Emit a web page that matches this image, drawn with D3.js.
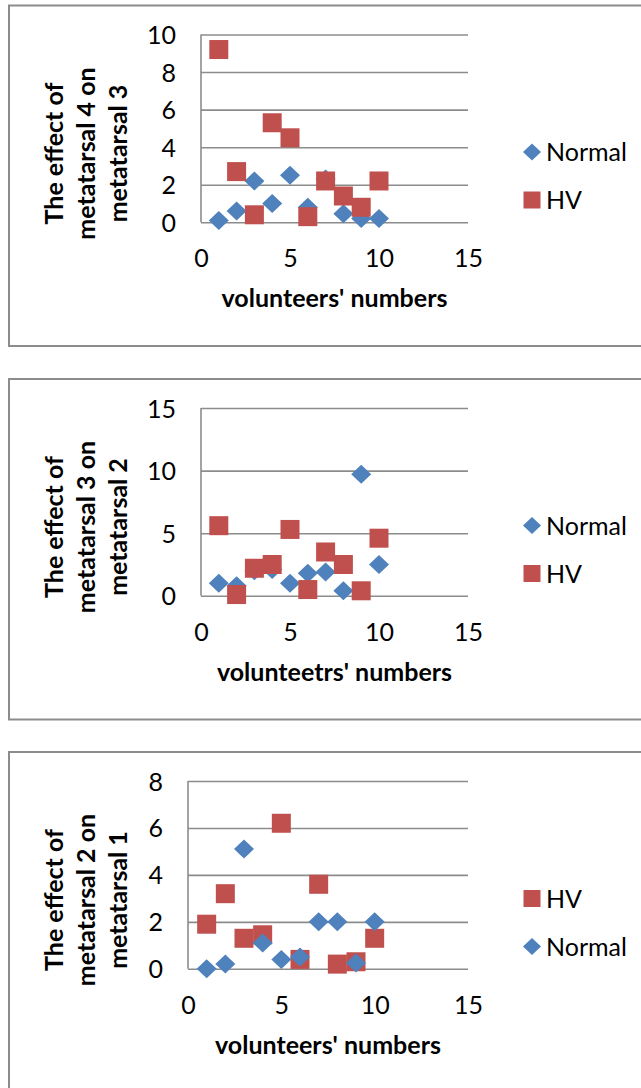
<!DOCTYPE html>
<html>
<head>
<meta charset="utf-8">
<script src="https://cdn.jsdelivr.net/npm/d3@7"></script>
<style>
  html, body { margin: 0; padding: 0; background: #fff; }
  svg { display: block; }
</style>
</head>
<body>
<script>
// Volunteer numbers shared by all three panels
const volunteers = [1, 2, 3, 4, 5, 6, 7, 8, 9, 10];
const xTicks = [0, 5, 10, 15];

// Panel 1: effect of metatarsal 4 on metatarsal 3
const m4m3Normal = [0.1, 0.6, 2.2, 1.0, 2.5, 0.8, 2.3, 0.45, 0.2, 0.2];
const m4m3HV     = [9.2, 2.7, 0.4, 5.3, 4.5, 0.3, 2.2, 1.4, 0.8, 2.2];
const m4m3Ticks  = [0, 2, 4, 6, 8, 10];

// Panel 2: effect of metatarsal 3 on metatarsal 2
const m3m2Normal = [1.0, 0.8, 2.0, 2.1, 1.0, 1.8, 1.9, 0.4, 9.7, 2.5];
const m3m2HV     = [5.6, 0.1, 2.2, 2.5, 5.3, 0.5, 3.5, 2.5, 0.4, 4.6];
const m3m2Ticks  = [0, 5, 10, 15];

// Panel 3: effect of metatarsal 2 on metatarsal 1
const m2m1HV     = [1.9, 3.2, 1.3, 1.45, 6.2, 0.4, 3.6, 0.2, 0.3, 1.3];
const m2m1Normal = [0.0, 0.2, 5.1, 1.1, 0.4, 0.5, 2.0, 2.0, 0.25, 2.0];
const m2m1Ticks  = [0, 2, 4, 6, 8];

const BLUE = "#4F81BD";
const RED = "#C0504D";
const GRID = "#8c8c8c";
const FONT = "Lato, 'Open Sans', sans-serif";
const FS = 25;

const svg = d3.select("body").append("svg")
  .attr("width", 641).attr("height", 1088);

const diamondPath = (w, h) => `M0,${-h}L${w},0L0,${h}L${-w},0Z`;

function drawMarker(g, kind, cx, cy, size) {
  if (kind === "square") {
    g.append("rect")
      .attr("x", cx - size / 2).attr("y", cy - size / 2)
      .attr("width", size).attr("height", size)
      .attr("fill", RED);
  } else {
    g.append("path")
      .attr("d", diamondPath(size / 2 + 0.5, size / 2))
      .attr("transform", `translate(${cx},${cy})`)
      .attr("fill", BLUE);
  }
}

function drawPanel(cfg) {
  const T = cfg.top;
  const g = svg.append("g");

  // chart border (open on the right, runs off the page)
  g.append("rect")
    .attr("x", 9).attr("y", T)
    .attr("width", 700).attr("height", 340.5)
    .attr("fill", "#fff")
    .attr("stroke", GRID).attr("stroke-width", 2);

  const left = cfg.plotLeft, right = 468;
  const top = T + 29, bottom = T + 216.8;

  const x = d3.scaleLinear().domain([0, 15]).range([left, right]);
  const yMax = cfg.yTicks[cfg.yTicks.length - 1];
  const y = d3.scaleLinear().domain([0, yMax]).range([bottom, top]);

  // horizontal gridlines with y labels
  const yAxis = g.append("g")
    .attr("transform", `translate(${left},0)`)
    .call(d3.axisLeft(y).tickValues(cfg.yTicks).tickSize(-(right - left)).tickPadding(25));
  yAxis.select(".domain").remove();
  yAxis.selectAll(".tick line").attr("stroke", GRID).attr("stroke-width", 1.6);
  yAxis.selectAll(".tick text")
    .attr("font-family", FONT).attr("font-size", FS).attr("fill", "#000")
    .attr("dy", "0.36em");

  // vertical axis line
  g.append("line")
    .attr("x1", left).attr("x2", left)
    .attr("y1", top).attr("y2", bottom)
    .attr("stroke", GRID).attr("stroke-width", 1.6);

  // x labels
  const xAxis = g.append("g")
    .attr("transform", `translate(0,${bottom})`)
    .call(d3.axisBottom(x).tickValues(xTicks).tickSize(0).tickPadding(27));
  xAxis.select(".domain").remove();
  xAxis.selectAll(".tick text")
    .attr("font-family", FONT).attr("font-size", FS).attr("fill", "#000");

  // axis titles
  g.append("text")
    .attr("x", (left + right) / 2).attr("y", T + 301.5)
    .attr("text-anchor", "middle")
    .attr("font-family", FONT).attr("font-size", FS).attr("font-weight", "bold")
    .text(cfg.xTitle);

  const yTitle = g.append("text")
    .attr("transform", `translate(0,${T + 148}) rotate(-90)`)
    .attr("text-anchor", "middle")
    .attr("font-family", FONT).attr("font-size", FS).attr("font-weight", "bold");
  cfg.yTitle.forEach((line, i) => {
    yTitle.append("tspan").attr("x", 0).attr("y", 63 + i * 32).text(line);
  });

  // series, drawn in order (later series on top)
  cfg.series.forEach(s => {
    const sg = g.append("g");
    volunteers.forEach((v, i) => drawMarker(sg, s.marker, x(v), y(s.values[i]), 19));
  });

  // legend
  cfg.series.forEach((s, i) => {
    const cy = T + 146.5 + i * 48;
    drawMarker(g, s.marker, 532, cy, 17);
    g.append("text")
      .attr("x", 546).attr("y", cy + 9)
      .attr("font-family", FONT).attr("font-size", FS).attr("fill", "#000")
      .text(s.name);
  });
}

drawPanel({
  top: 5.5, plotLeft: 201, yTicks: m4m3Ticks,
  xTitle: "volunteers' numbers",
  yTitle: ["The effect of", "metatarsal 4 on", "metatarsal 3"],
  series: [
    { name: "Normal", marker: "diamond", values: m4m3Normal },
    { name: "HV", marker: "square", values: m4m3HV }
  ]
});

drawPanel({
  top: 379, plotLeft: 201, yTicks: m3m2Ticks,
  xTitle: "volunteetrs' numbers",
  yTitle: ["The effect of", "metatarsal 3 on", "metatarsal 2"],
  series: [
    { name: "Normal", marker: "diamond", values: m3m2Normal },
    { name: "HV", marker: "square", values: m3m2HV }
  ]
});

drawPanel({
  top: 752, plotLeft: 188, yTicks: m2m1Ticks,
  xTitle: "volunteers' numbers",
  yTitle: ["The effect of", "metatarsal 2 on", "metatarsal 1"],
  series: [
    { name: "HV", marker: "square", values: m2m1HV },
    { name: "Normal", marker: "diamond", values: m2m1Normal }
  ]
});
</script>
</body>
</html>
